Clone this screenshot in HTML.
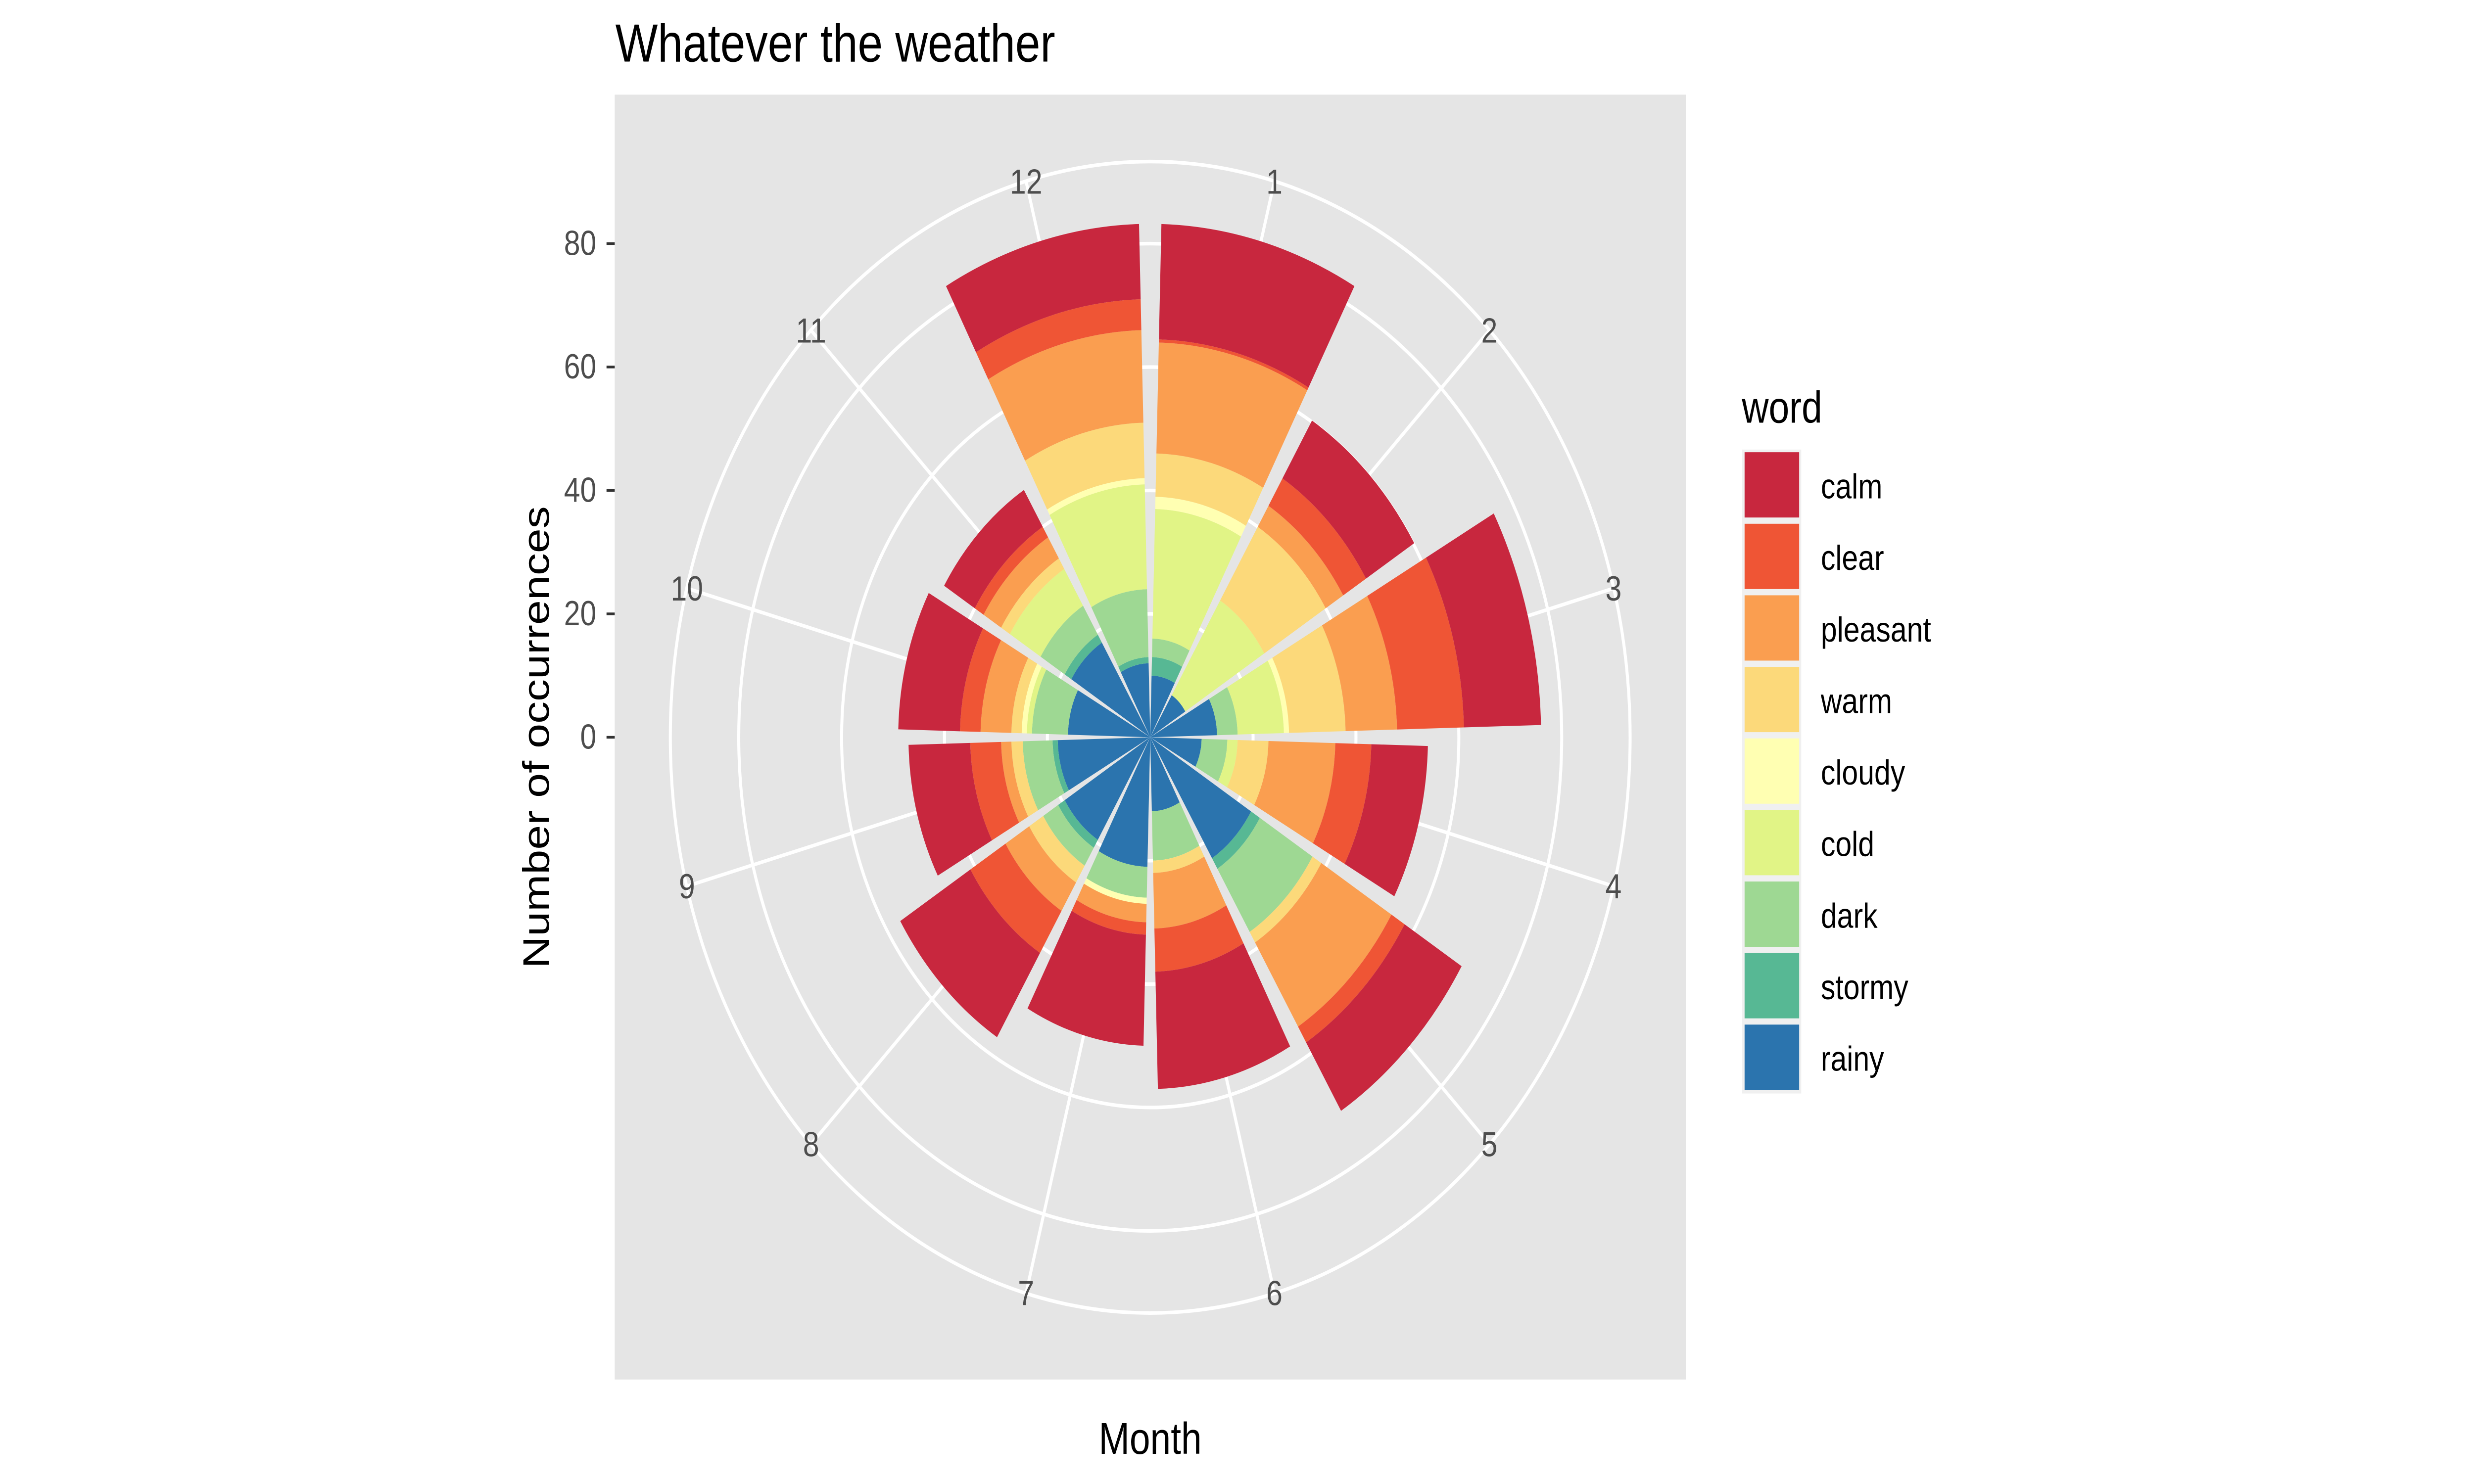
<!DOCTYPE html>
<html><head><meta charset="utf-8"><style>
html,body{margin:0;padding:0;background:#fff;overflow:hidden;width:100%;height:100%}
svg{display:block;position:absolute;left:0;top:0;width:100vw;height:100vh}
text{font-family:"Liberation Sans",Arial,sans-serif}
</style></head><body>
<svg id="s" viewBox="0 0 1568 784" preserveAspectRatio="none" xmlns="http://www.w3.org/2000/svg">
<rect x="0" y="0" width="1568" height="784" fill="#fff"/>
<rect x="389.6" y="50" width="678.9" height="678.8" fill="#e5e5e5"/>
<g id="grid"></g>
<g id="bars"></g>
<g font-size="18.5" fill="#4d4d4d" text-anchor="middle" dominant-baseline="central" id="mlab"></g>
<g font-size="18.5" fill="#4d4d4d" text-anchor="end">
<text x="378" y="395.5">0</text>
<text x="378" y="330.3">20</text>
<text x="378" y="265.1">40</text>
<text x="378" y="199.9">60</text>
<text x="378" y="134.7">80</text>
</g>
<g stroke="#333" stroke-width="1.4">
<line x1="384.4" x2="389.6" y1="389.5" y2="389.5"/>
<line x1="384.4" x2="389.6" y1="324.3" y2="324.3"/>
<line x1="384.4" x2="389.6" y1="259.1" y2="259.1"/>
<line x1="384.4" x2="389.6" y1="193.9" y2="193.9"/>
<line x1="384.4" x2="389.6" y1="128.7" y2="128.7"/>
</g>
<text x="390" y="32.5" font-size="28.5" fill="#000">Whatever the weather</text>
<text x="729" y="768" font-size="23.5" fill="#000" text-anchor="middle">Month</text>
<text transform="translate(348,389.5) rotate(-90)" font-size="23.5" fill="#000" text-anchor="middle">Number of occurrences</text>
<text x="1104" y="223.3" font-size="23.5" fill="#000">word</text>
<g id="leg"></g>
<g font-size="18.5" fill="#000">
<text x="1154" y="263.3">calm</text>
<text x="1154" y="301.1">clear</text>
<text x="1154" y="338.9">pleasant</text>
<text x="1154" y="376.7">warm</text>
<text x="1154" y="414.5">cloudy</text>
<text x="1154" y="452.3">cold</text>
<text x="1154" y="490.1">dark</text>
<text x="1154" y="527.9">stormy</text>
<text x="1154" y="565.7">rainy</text>
</g>
</svg>
<script>
var NS="http://www.w3.org/2000/svg";
var cx=729, cy=389.5, k=3.26;
function el(p,t,a){var e=document.createElementNS(NS,t);for(var q in a)e.setAttribute(q,a[q]);p.appendChild(e);return e;}
function P(r,a){a=a*Math.PI/180;return [cx+r*Math.sin(a), cy-r*Math.cos(a)];}
var g=document.getElementById('grid');
[20,40,60,80,93.3].forEach(function(v){el(g,'circle',{cx:cx,cy:cy,r:v*k,fill:'none',stroke:'#fff','stroke-width':1.9});});
for(var m=1;m<=12;m++){var p=P(93.3*k,(m-0.5)*30);el(g,'line',{x1:cx,y1:cy,x2:p[0],y2:p[1],stroke:'#fff','stroke-width':1.9});}
var ml=document.getElementById('mlab');
for(var m=1;m<=12;m++){var p=P(304,(m-0.5)*30);var t=el(ml,'text',{x:p[0],y:p[1]});t.textContent=m;}
var cols=['#2B74AE','#57B894','#9ED893','#E1F486','#FFFFB2','#FCD97A','#FA9E50','#EF5535','#C8273E'];
var D={
1:[10,13,16,37,39,46,64,64.5,83.2],
2:[8,8,8,26,26,40,44,49.2,60.2],
3:[13,13,17,26,27,38,48,61,76],
4:[10,10,15,17,17,23,36,43,54],
5:[23,25,37,37,37,39,55,58,71],
6:[12,12,20,20,20,22,31,38,57],
7:[21,21,26,26,27,27,30,32,50],
8:[19.5,21,24.4,24.4,24.4,27.6,33,41,57],
9:[18,19,24.8,24.8,24.8,27,29,35,47],
10:[16,16,23,24,25,27,33,37,49],
11:[18,19.5,25,32,32,34,38,40,47],
12:[12,13,24,41,42,51,66,71,83.2]};
var b=document.getElementById('bars');
function sector(r0,r1,a0,a1){
 var p1=P(r1,a0),p2=P(r1,a1),p3=P(r0,a1),p4=P(r0,a0);
 var d='M'+p1[0]+','+p1[1]+' A'+r1+','+r1+' 0 0 1 '+p2[0]+','+p2[1]+' L'+p3[0]+','+p3[1];
 if(r0>0) d+=' A'+r0+','+r0+' 0 0 0 '+p4[0]+','+p4[1];
 return d+' Z';
}
for(var m=1;m<=12;m++){
 var a0=(m-1)*30+1.5,a1=m*30-1.5,prev=0;
 for(var i=0;i<9;i++){var v=D[m][i];if(v>prev){el(b,'path',{d:sector(prev*k,v*k,a0,a1),fill:cols[i]});}prev=Math.max(prev,v);}
}
var lg=document.getElementById('leg');
el(lg,'rect',{x:1104.1,y:237.5,width:37.5,height:340.2,fill:'#f0f0f0'});
var lc=['#C8273E','#EF5535','#FA9E50','#FCD97A','#FFFFB2','#E1F486','#9ED893','#57B894','#2B74AE'];
for(var i=0;i<9;i++){el(lg,'rect',{x:1105.7,y:238.9+i*37.8,width:34.6,height:34.5,fill:lc[i]});}
</script>
</body></html>
